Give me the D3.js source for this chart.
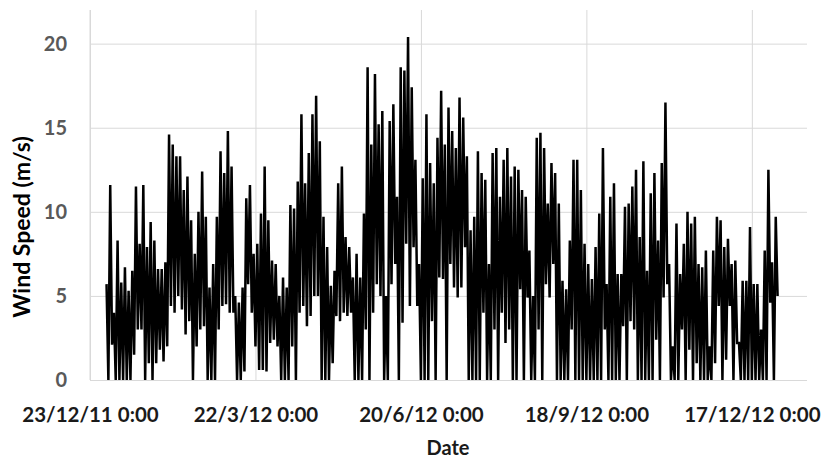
<!DOCTYPE html>
<html>
<head>
<meta charset="utf-8">
<script src="https://cdn.jsdelivr.net/npm/d3@7"></script>
<style>
  body { margin: 0; background: #fff; }
  text { font-family: Lato, "Open Sans", sans-serif; font-weight: bold; }
</style>
</head>
<body>
<svg id="chart" width="823" height="461"></svg>
<script>
// data: 2-day bins starting 1/1/2012, high and low wind speed in each bin
const startDay = "2012-01-01";
const binDays = 2;
const binMax = [
  5.7, 11.6, 4.0, 8.3, 5.8, 6.7, 5.3, 6.5, 11.5, 8.1,
  11.6, 7.9, 9.4, 8.3, 6.6, 6.6, 7.0, 14.6, 14.0, 13.3,
  13.3, 11.3, 12.1, 9.5, 7.5, 10.0, 12.4, 9.7, 5.5, 6.9,
  9.7, 13.6, 12.3, 14.8, 12.7, 5.0, 4.6, 5.5, 10.8, 11.6,
  7.5, 8.1, 9.9, 12.7, 9.5, 7.1, 6.9, 5.0, 6.1, 5.5,
  10.4, 10.2, 11.8, 15.8, 11.7, 13.5, 15.8, 16.9, 14.2, 9.7,
  7.9, 5.6, 6.5, 11.7, 12.7, 8.5, 7.9, 6.1, 7.5, 6.1,
  9.9, 18.6, 14.0, 18.2, 15.2, 16.0, 5.0, 15.4, 16.4, 10.9,
  18.6, 18.4, 20.4, 17.4, 13.1, 6.9, 12.0, 15.8, 12.9, 11.7,
  14.4, 17.2, 14.0, 16.2, 14.8, 13.8, 16.8, 15.6, 13.3, 8.9,
  9.7, 13.6, 12.3, 11.9, 6.9, 13.5, 13.8, 10.9, 13.1, 13.8,
  12.1, 12.7, 12.5, 11.3, 10.9, 7.7, 5.0, 14.4, 14.7, 13.8,
  10.5, 12.9, 12.3, 10.5, 5.9, 5.4, 8.3, 13.1, 13.1, 11.3,
  8.1, 6.9, 6.0, 7.9, 9.9, 13.8, 5.7, 10.9, 11.7, 6.3,
  6.3, 10.3, 10.5, 11.5, 12.5, 8.5, 13.0, 6.5, 11.1, 12.3,
  8.3, 12.9, 16.5, 6.9, 2.0, 9.3, 6.3, 8.1, 10.0, 9.3,
  9.7, 6.9, 6.7, 7.7, 2.0, 7.7, 9.7, 9.5, 7.9, 8.4,
  6.9, 7.1, 2.2, 5.9, 5.9, 9.1, 5.7, 5.7, 3.0, 7.7,
  12.5, 7.0, 9.7
];
const binMin = [
  0, 2.1, 0, 0, 0, 0, 0, 1.5, 3.0, 3.0,
  0, 1.0, 0, 1.0, 1.8, 1.1, 2.0, 4.4, 4.0, 5.0,
  4.2, 2.7, 3.5, 0, 2.0, 3.0, 3.2, 0, 0, 0,
  3.0, 4.4, 4.5, 4.0, 4.0, 0, 0, 0.5, 5.7, 4.0,
  2.0, 0.6, 0.6, 0.5, 2.2, 2.4, 2.0, 0, 0, 0,
  2.0, 0, 4.0, 4.4, 3.2, 3.8, 5.0, 5.0, 0, 0,
  0, 1.0, 3.8, 3.5, 4.0, 3.8, 4.0, 0, 0, 0,
  3.0, 0, 4.0, 5.7, 5.0, 0, 0, 5.7, 6.9, 0,
  3.4, 8.1, 4.4, 7.9, 4.4, 0, 0, 0, 3.5, 0,
  6.1, 6.0, 0, 6.9, 5.5, 4.9, 5.5, 7.9, 0, 0,
  0, 0, 4.0, 0, 0, 3.0, 0, 4.0, 2.2, 3.0,
  0, 0, 5.4, 0, 4.9, 0, 0, 3.0, 0, 5.7,
  4.9, 6.9, 0, 0, 0, 0, 3.0, 0, 0, 0,
  0, 0, 0, 0, 0, 3.0, 0, 0, 0, 0,
  3.2, 0, 3.5, 3.0, 0, 0, 0, 0, 0, 2.4,
  0, 4.9, 5.7, 0, 0, 0, 3.0, 0, 1.8, 0,
  1.0, 0, 0, 0, 0, 1.0, 4.4, 0, 1.2, 4.4,
  0, 2.2, 0, 0, 0, 0, 0, 0, 0, 0,
  4.6, 0, 5.0
];
const tickDates = ["2011-12-23", "2012-03-22", "2012-06-20", "2012-09-18", "2012-12-17"];
const xDomain = ["2011-12-23", "2013-01-16"];
const yTicks = [0, 5, 10, 15, 20];
const yMax = 22;

const svg = d3.select('#chart');
const width = 823, height = 461;
const margin = {top: 10, right: 16, bottom: 81, left: 90};

const parse = d3.timeParse("%Y-%m-%d");
const x = d3.scaleTime()
  .domain(xDomain.map(parse))
  .range([margin.left, width - margin.right]);
const y = d3.scaleLinear()
  .domain([0, yMax])
  .range([height - margin.bottom, margin.top]);

// zigzag between the high and low of each bin
const t0 = parse(startDay);
let points = [];
binMax.forEach((v, i) => {
  points.push({date: d3.timeDay.offset(t0, i * binDays), v: v});
  points.push({date: d3.timeDay.offset(t0, i * binDays + 1), v: binMin[i]});
});

//GRID
svg.append('g')
  .attr('transform', `translate(0,${height - margin.bottom})`)
  .call(d3.axisBottom(x)
    .tickValues(tickDates.map(parse))
    .tickSize(-(height - margin.top - margin.bottom))
    .tickFormat(''))
  .call(g => g.select('.domain').remove())
  .call(g => g.selectAll('line').attr('stroke', '#d9d9d9'));

svg.append('g')
  .attr('transform', `translate(${margin.left},0)`)
  .call(d3.axisLeft(y)
    .tickValues(yTicks)
    .tickSize(-(width - margin.left - margin.right))
    .tickFormat(''))
  .call(g => g.select('.domain').remove())
  .call(g => g.selectAll('line').attr('stroke', '#d9d9d9'));

// left axis line
svg.append('line')
  .attr('x1', margin.left).attr('x2', margin.left)
  .attr('y1', margin.top).attr('y2', height - margin.bottom)
  .attr('stroke', '#d9d9d9');

// the series
svg.append('path')
  .datum(points)
  .attr('fill', 'none')
  .attr('stroke', '#000')
  .attr('stroke-width', 2.5)
  .attr('stroke-linejoin', 'miter')
  .attr('d', d3.line()
    .x(d => x(d.date))
    .y(d => y(d.v)));

//AXIS LABELS
const fmt = d3.timeFormat("%-d/%-m/%y %-H:%M");
svg.append('g')
  .attr('transform', `translate(0,${height - margin.bottom})`)
  .call(d3.axisBottom(x)
    .tickValues(tickDates.map(parse))
    .tickSize(0)
    .tickPadding(27)
    .tickFormat(fmt))
  .call(g => g.select('.domain').remove())
  .call(g => g.selectAll('text')
    .attr('font-size', 20.5)
    .attr('font-family', 'Lato, sans-serif')
    .attr('font-weight', 'bold')
    .attr('fill', '#1a1a1a'));

svg.append('g')
  .attr('transform', `translate(${margin.left},0)`)
  .call(d3.axisLeft(y)
    .tickValues(yTicks)
    .tickSize(0)
    .tickPadding(23))
  .call(g => g.select('.domain').remove())
  .call(g => g.selectAll('text')
    .attr('font-size', 20)
    .attr('font-family', 'Lato, sans-serif')
    .attr('font-weight', 'bold')
    .attr('fill', '#595959'));

svg.append('text')
  .attr('x', 448)
  .attr('y', 455)
  .attr('text-anchor', 'middle')
  .attr('font-size', 20)
  .attr('fill', '#1a1a1a')
  .text('Date');

svg.append('text')
  .attr('transform', 'translate(30,227) rotate(-90)')
  .attr('text-anchor', 'middle')
  .attr('font-size', 23)
  .attr('fill', '#000')
  .text('Wind Speed (m/s)');
</script>
</body>
</html>
